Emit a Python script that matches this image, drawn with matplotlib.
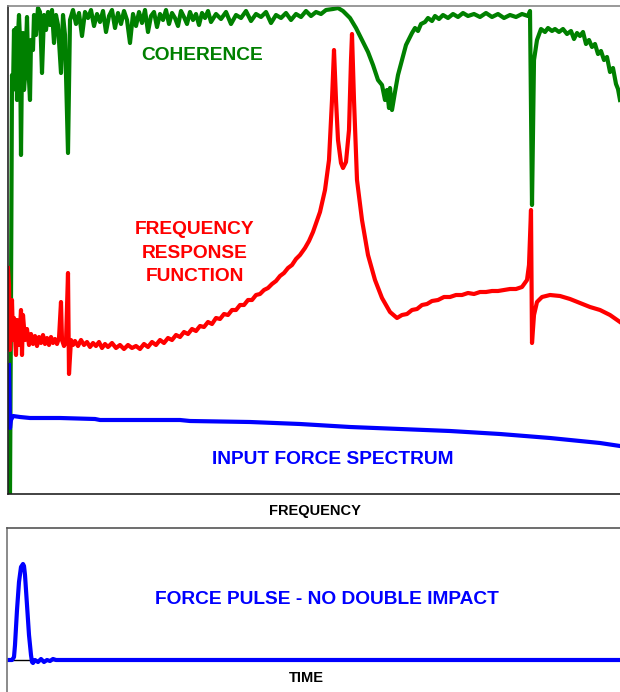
import numpy as np
import matplotlib
matplotlib.use("Agg")
import matplotlib.pyplot as plt

plt.rcParams['font.family'] = ['Liberation Sans', 'DejaVu Sans']

# frequency axis (bins) and levels
coh_f = [2, 3, 4, 5, 6, 7, 8, 9, 10, 11, 12, 13, 14, 15, 16, 17, 19, 20, 22, 23,
         25, 26, 28, 30, 32, 34, 36, 38, 40, 42, 44, 46, 48, 50, 53, 55, 57, 60,
         62, 65, 68, 71, 74, 77, 80, 83, 86, 89, 92, 95, 98, 101, 104, 107, 110, 113, 116, 119,
         122, 125, 128, 131, 134, 137, 140, 143, 146, 149, 152, 155, 158, 161, 164, 167, 170, 173,
         176, 179, 182, 185, 188, 191, 194, 197, 200,
         203, 208, 213, 218, 223, 228, 233, 238, 243, 248, 253, 258, 263, 268, 273, 278, 283, 288,
         293, 298, 303, 308, 313, 318,
         325, 330, 335, 342, 348, 354, 360, 365, 370, 374, 377, 379, 381, 382, 384, 387, 390, 394, 398,
         404, 407, 410, 413, 417, 420, 424, 427, 431, 435, 440, 445, 450, 455, 460, 466, 472, 478,
         484, 490, 496, 502, 508, 514, 520, 522, 524,
         526, 529, 533, 537, 540, 544, 547, 551, 555, 559, 563, 566, 569, 572, 575, 578, 581, 584,
         587, 590, 593, 596, 599, 602, 605, 608, 610, 612]
coherence = [0, 194, 419, 404, 464, 434, 466, 394, 459, 479, 454, 339, 434, 461, 404, 417, 477, 434, 394, 454,
             444, 479, 459, 486, 482, 421, 479, 464, 482, 469, 484, 451, 479, 469, 421, 479, 459, 341,
             474, 484, 470, 481, 458, 482, 476, 484, 468, 480, 472, 483, 462, 478, 484, 466, 481, 470, 483, 474,
             451, 480, 468, 482, 471, 484, 462, 478, 482, 467, 480, 474, 484, 470, 481, 476, 468, 483,
             477, 470, 482, 474, 480, 469, 481, 476, 483,
             472, 480, 475, 482, 470, 479, 476, 483, 473, 480, 477, 482, 471, 479, 476, 481, 474, 480,
             477, 483, 478, 482, 480, 484,
             485, 486, 483, 476, 466, 454, 442, 429, 414, 409, 394, 404, 386, 406, 384, 402, 419, 434, 449,
             461, 466, 463, 470, 472, 476, 473, 478, 475, 479, 476, 480, 477, 481, 478, 480, 477, 481,
             477, 480, 476, 479, 477, 480, 478, 483, 289,
             434, 454, 465, 462, 466, 463, 465, 462, 465, 460, 463, 455, 461, 458, 462, 450, 454, 447,
             450, 440, 443, 434, 437, 422, 426, 410, 405, 394]

frf_f = [0, 1, 2, 4, 5, 6, 8, 9, 11, 13, 14,
         15, 17, 19, 21, 23, 25, 27, 29, 31, 33, 35, 37, 39, 41, 43, 45, 47, 49, 51, 53, 54, 56, 58,
         60, 61, 63, 65, 67, 70, 73, 76, 79, 82, 85, 88, 91, 94, 97, 100, 104, 108, 112, 116, 120,
         124, 128, 132, 136, 140, 144, 148, 152, 156, 160, 164, 168, 172, 176, 180, 184, 188, 192,
         196, 200, 204, 208, 212, 216, 220, 224, 228, 232, 236, 240, 244, 248, 252, 256, 260, 264,
         268, 272, 276, 280, 284, 288, 292, 297, 301, 305,
         312, 317, 321, 324, 326, 328, 330, 333, 335, 338, 341, 343, 344, 346, 349, 354, 360, 367,
         374, 382, 389, 394, 399, 404, 409, 414, 419, 424, 430, 436, 442, 448, 454, 460, 466, 472,
         478, 484, 490, 496, 502, 508, 514, 519, 521, 523, 524, 526, 529, 534, 542, 552, 562, 572,
         582, 592, 602, 612]
frf = [226, 209, 144, 194, 154, 176, 139, 174, 149, 184, 139,
       179, 154, 165, 149, 160, 150, 158, 148, 157, 151, 159, 150, 156, 149, 157, 151, 155, 150, 156, 192, 154, 148, 152,
       221, 120, 154, 149, 153, 148, 154, 149, 152, 147, 151, 148, 152, 146, 150, 147, 151, 146, 149, 145, 149,
       146, 148, 145, 150, 147, 152, 149, 154, 151, 156, 154, 159, 157, 162, 160, 165, 163, 168,
       167, 172, 170, 176, 175, 180, 179, 184, 184, 189, 189, 194, 194, 199, 200, 204, 206, 210,
       213, 218, 221, 226, 229, 235, 239, 246, 253, 262,
       282, 304, 334, 394, 444, 394, 354, 331, 326, 332, 364, 434, 460, 394, 314, 274, 239, 214,
       196, 182, 176, 179, 180, 184, 185, 189, 190, 193, 194, 197, 197, 199, 199, 201, 200, 202,
       202, 203, 203, 204, 205, 205, 207, 214, 229, 284, 151, 179, 192, 197, 199, 198, 195, 191,
       187, 184, 179, 172]

inp_f = [1, 2, 3, 5, 12, 22, 52, 87, 92, 172, 182, 242, 292, 342, 392, 442, 492, 542, 572, 592, 612]
input_force = [129, 66, 74, 78, 77, 76, 76, 75, 74, 74, 73, 72, 70, 67, 65, 63, 60, 56, 53, 51, 48]

# force pulse in time
t = [0, 5, 7, 8, 10, 12, 14, 16, 17, 18, 20, 22, 24, 25, 26, 28, 31, 34, 37, 40, 43, 46, 49, 613]
pulse = [0, 0, 3, 15, 50, 78, 93, 96, 94, 85, 55, 25, 5, -2, -3, 0, -2, 1, -2, 0, -1, 1, 0, 0]

GREEN = '#008000'
RED = '#ff0000'
BLUE = '#0000ff'

fig = plt.figure(figsize=(6.2, 6.92), dpi=100)
W, H = 620, 692

ax = fig.add_axes([8 / W, (H - 494) / H, 1 - 8 / W, 488 / H])
ax.plot(coh_f, coherence, color=GREEN, lw=3, solid_joinstyle='round')
ax.plot(frf_f, frf, color=RED, lw=3, solid_joinstyle='round')
ax.plot(inp_f, input_force, color=BLUE, lw=3, solid_joinstyle='round')
ax.set_xlim(0, 612)
ax.set_ylim(0, 488)
ax.set_xticks([])
ax.set_yticks([])
ax.spines['right'].set_visible(False)
ax.spines['top'].set_color('#888888')
ax.spines['left'].set_color('#222222')
ax.spines['bottom'].set_color('#222222')
for s in ax.spines.values():
    s.set_linewidth(1.2)

ax2 = fig.add_axes([7 / W, 0, 1 - 7 / W, (H - 528) / H])
ax2.axhline(0, color='black', lw=1)
ax2.plot(t, pulse, color=BLUE, lw=3, solid_joinstyle='round')
ax2.set_xlim(0, 613)
ax2.set_ylim(-32, 132)
ax2.set_xticks([])
ax2.set_yticks([])
ax2.spines['right'].set_visible(False)
ax2.spines['bottom'].set_visible(False)
ax2.spines['top'].set_color('#555555')
ax2.spines['left'].set_color('#777777')
for s in ax2.spines.values():
    s.set_linewidth(1.2)

def ftext(x, y, s, color, size, ls=1.2):
    fig.text(x / W, (H - y) / H, s, color=color, fontsize=size, fontweight='bold',
             ha='center', va='center', linespacing=ls)

ftext(202, 55, 'COHERENCE', GREEN, 13.8)
ftext(195, 253, 'FREQUENCY\nRESPONSE\nFUNCTION', RED, 13.8, ls=1.5)
ftext(333, 459, 'INPUT FORCE SPECTRUM', BLUE, 13.8)
ftext(315, 511, 'FREQUENCY', 'black', 10.5)
ftext(327, 600, 'FORCE PULSE - NO DOUBLE IMPACT', BLUE, 13.8)
ftext(306, 678, 'TIME', 'black', 10.5)

fig.savefig('out.png', dpi=100)
